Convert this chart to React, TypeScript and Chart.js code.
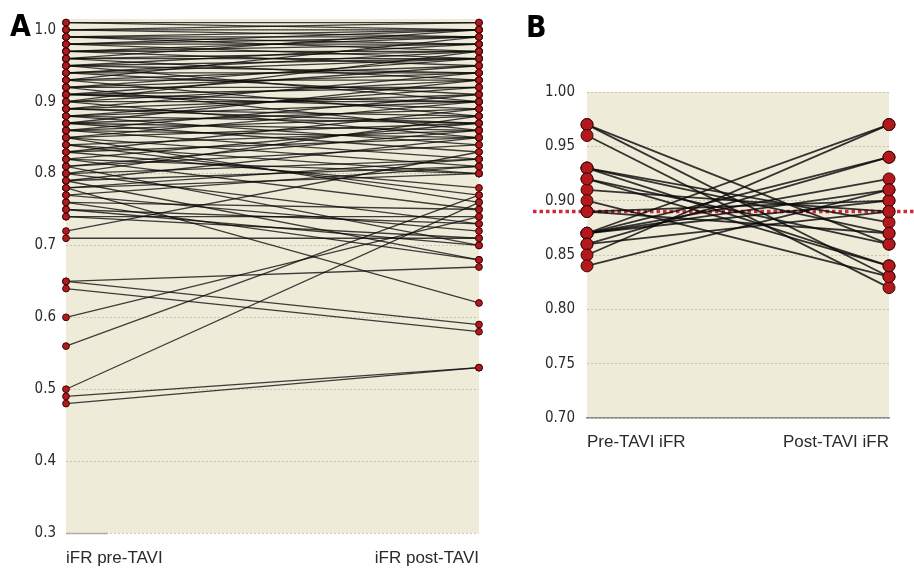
import React, { useEffect, useRef } from 'react';
import { Chart, registerables } from 'chart.js';
Chart.register(...registerables);

// ---------- Panel A data ----------
const xLabelsA = ['iFR pre-TAVI', 'iFR post-TAVI'];
const yTicksA = [0.3, 0.4, 0.5, 0.6, 0.7, 0.8, 0.9, 1.0];
const preA = [
  1.01, 1.01, 1.00, 1.00, 1.00, 0.99, 0.99, 0.99, 0.98, 0.98, 0.98, 0.97, 0.97, 0.97, 0.96, 0.96, 0.96,
  0.95, 0.95, 0.95, 0.94, 0.94, 0.94, 0.93, 0.93, 0.93, 0.92, 0.92, 0.92, 0.91, 0.91, 0.91, 0.90, 0.90,
  0.90, 0.89, 0.89, 0.89, 0.88, 0.88, 0.88, 0.87, 0.87, 0.87, 0.86, 0.86, 0.86, 0.85, 0.85, 0.85, 0.84,
  0.84, 0.83, 0.83, 0.82, 0.82, 0.81, 0.81, 0.80, 0.79, 0.78,
  0.99, 0.98, 0.97, 0.96, 0.95, 0.94, 0.93, 0.92, 0.91, 0.90, 0.89, 0.88, 0.87, 0.86,
  0.79, 0.78, 0.77, 0.76, 0.76, 0.75, 0.75, 0.74, 0.74, 0.80, 0.82, 0.81, 0.79, 0.80, 0.83, 0.84, 0.85,
  0.72, 0.71, 0.65, 0.65, 0.64, 0.60, 0.56, 0.50, 0.49, 0.48, 0.77, 0.78,
];
const postA = [
  1.01, 1.00, 1.01, 0.99, 1.00, 1.00, 0.97, 0.98, 1.00, 0.96, 0.99, 0.99, 0.95, 0.98, 0.97, 0.93, 1.00,
  0.98, 0.94, 0.90, 0.96, 0.97, 0.91, 0.95, 0.88, 0.99, 0.94, 0.86, 0.96, 0.92, 0.89, 0.95, 0.93, 0.85,
  0.97, 0.91, 0.87, 0.94, 0.90, 0.84, 0.92, 0.89, 0.83, 0.93, 0.88, 0.82, 0.91, 0.87, 0.81, 0.90, 0.86,
  0.80, 0.89, 0.85, 0.87, 0.80, 0.84, 0.86, 0.82, 0.81, 0.80,
  0.99, 0.98, 0.97, 0.96, 0.96, 0.94, 0.93, 0.92, 0.90, 0.90, 0.88, 0.87, 0.86, 0.85,
  0.68, 0.62, 0.72, 0.68, 0.75, 0.70, 0.73, 0.71, 0.74, 0.73, 0.75, 0.70, 0.85, 0.88, 0.78, 0.77, 0.76,
  0.83, 0.71, 0.67, 0.59, 0.58, 0.74, 0.77, 0.76, 0.53, 0.53, 0.81, 0.82,
];

// ---------- Panel B data ----------
const xLabelsB = ['Pre-TAVI iFR', 'Post-TAVI iFR'];
const yTicksB = [0.7, 0.75, 0.8, 0.85, 0.9, 0.95, 1.0];
const preB = [0.97, 0.97, 0.96, 0.93, 0.93, 0.93, 0.92, 0.91, 0.90, 0.89, 0.89, 0.87, 0.87, 0.87, 0.87, 0.87, 0.86, 0.86, 0.85, 0.84, 0.92];
const postB = [0.83, 0.86, 0.82, 0.84, 0.87, 0.88, 0.86, 0.89, 0.83, 0.87, 0.90, 0.97, 0.94, 0.92, 0.91, 0.90, 0.94, 0.89, 0.97, 0.91, 0.84];
const cutoffB = 0.89;

const NARROW = '"Liberation Sans Narrow", "DejaVu Sans Condensed", "Liberation Sans", sans-serif';
const SANS = '"Liberation Sans", Arial, sans-serif';

const bgPlugin = {
  id: 'bgArea',
  beforeDraw(chart: any, _a: any, opts: any) {
    const { ctx, chartArea } = chart;
    ctx.save();
    ctx.fillStyle = opts.color || '#efebd9';
    ctx.fillRect(chartArea.left, chartArea.top, chartArea.right - chartArea.left, chartArea.bottom - chartArea.top);
    if (opts.baseLine) {
      ctx.strokeStyle = opts.baseLine.color;
      ctx.lineWidth = 1.5;
      ctx.beginPath();
      ctx.moveTo(chartArea.left, chartArea.bottom + 0.5);
      ctx.lineTo(chartArea.left + opts.baseLine.length, chartArea.bottom + 0.5);
      ctx.stroke();
    }
    ctx.restore();
  },
};

const cutoffPlugin = {
  id: 'cutoff',
  beforeDatasetsDraw(chart: any, _a: any, opts: any) {
    if (opts.value == null) return;
    const { ctx, chartArea } = chart;
    const y = chart.scales.y.getPixelForValue(opts.value);
    ctx.save();
    ctx.strokeStyle = '#d02a38';
    ctx.lineWidth = 3.5;
    ctx.setLineDash([3.5, 3]);
    ctx.beginPath();
    ctx.moveTo(chartArea.left - 54, y);
    ctx.lineTo(chart.width, y);
    ctx.stroke();
    ctx.restore();
  },
};

function buildConfig(p: any) {
  const lines = p.pre.map((v: number, i: number) => ({
    type: 'line',
    data: [{ x: 0, y: v }, { x: 1, y: p.post[i] }],
    borderColor: p.lineColor,
    borderWidth: p.lineWidth,
    pointRadius: 0,
    fill: false,
    clip: false,
    order: 1,
  }));
  const pts = [
    ...p.pre.map((v: number) => ({ x: 0, y: v })),
    ...p.post.map((v: number) => ({ x: 1, y: v })),
  ];
  const points = {
    type: 'scatter',
    data: pts,
    showLine: false,
    pointRadius: p.pointRadius,
    pointBackgroundColor: '#b3191c',
    pointBorderColor: '#3a0606',
    pointBorderWidth: 1,
    clip: false,
    order: -1,
  };
  return {
    type: 'line',
    data: { datasets: [points, ...lines] },
    options: {
      responsive: false,
      animation: false,
      events: [],
      layout: { padding: p.padding },
      plugins: {
        legend: { display: false },
        tooltip: { enabled: false },
        bgArea: { color: '#efebd9', baseLine: p.baseLine },
        cutoff: { value: p.cutoff },
      },
      scales: {
        x: {
          type: 'linear',
          min: 0,
          max: 1,
          afterBuildTicks: (s: any) => { s.ticks = [{ value: 0 }, { value: 1 }]; },
          afterFit: (s: any) => { s.height = p.xHeight; },
          grid: { display: false, drawTicks: false },
          border: { display: p.xBorder, color: '#8c8c8c', width: 1.5 },
          ticks: {
            align: 'inner',
            padding: p.xPad,
            maxRotation: 0,
            autoSkip: false,
            color: '#2a2a2a',
            font: { family: SANS, size: 17 },
            callback: (v: number) => p.xLabels[v === 0 ? 0 : 1],
          },
        },
        y: {
          type: 'linear',
          min: p.yMin,
          max: p.yMax,
          afterBuildTicks: (s: any) => { s.ticks = p.yTicks.map((v: number) => ({ value: v })); },
          afterFit: (s: any) => { s.width = p.yWidth; },
          grid: { color: 'rgba(185,180,160,0.7)', lineWidth: 1, drawTicks: false },
          border: { display: false, dash: [2, 2] },
          ticks: {
            padding: p.yPad,
            autoSkip: false,
            color: '#2a2a2a',
            font: { family: NARROW, size: p.yFont },
            callback: (v: number) => v.toFixed(p.yDec),
          },
        },
      },
    },
    plugins: [bgPlugin, cutoffPlugin],
  };
}

export default function App() {
  const refA = useRef<HTMLCanvasElement>(null);
  const refB = useRef<HTMLCanvasElement>(null);

  useEffect(() => {
    const a = new Chart(refA.current as any, buildConfig({
      pre: preA, post: postA, xLabels: xLabelsA, yTicks: yTicksA,
      yMin: 0.3, yMax: 1.015, yDec: 1, yFont: 15, yWidth: 66, yPad: 10,
      xHeight: 37, xPad: 15, xBorder: false,
      padding: { top: 16, right: 21, bottom: 0, left: 0 },
      lineColor: 'rgba(10,10,10,0.78)', lineWidth: 1.3, pointRadius: 3.4,
      baseLine: { color: '#a8a8a8', length: 42 }, cutoff: null,
    }) as any);
    const b = new Chart(refB.current as any, buildConfig({
      pre: preB, post: postB, xLabels: xLabelsB, yTicks: yTicksB,
      yMin: 0.7, yMax: 1.0, yDec: 2, yFont: 15, yWidth: 87, yPad: 12,
      xHeight: 52, xPad: 14, xBorder: true,
      padding: { top: 92, right: 25, bottom: 100, left: 0 },
      lineColor: 'rgba(10,10,10,0.82)', lineWidth: 1.8, pointRadius: 6,
      baseLine: null, cutoff: cutoffB,
    }) as any);
    return () => { a.destroy(); b.destroy(); };
  }, []);

  const letter: React.CSSProperties = {
    position: 'absolute', fontFamily: NARROW, fontWeight: 'bold', fontSize: 30, lineHeight: '30px', color: '#000',
  };

  return (
    <div style={{ position: 'fixed', left: 0, top: 0, width: 914, height: 570, background: '#fff', overflow: 'hidden' }}>
      <canvas ref={refA} width={500} height={570} style={{ position: 'absolute', left: 0, top: 0 }} />
      <canvas ref={refB} width={414} height={570} style={{ position: 'absolute', left: 500, top: 0 }} />
      <div style={{ ...letter, left: 10, top: 11 }}>A</div>
      <div style={{ ...letter, left: 526, top: 12 }}>B</div>
    </div>
  );
}
